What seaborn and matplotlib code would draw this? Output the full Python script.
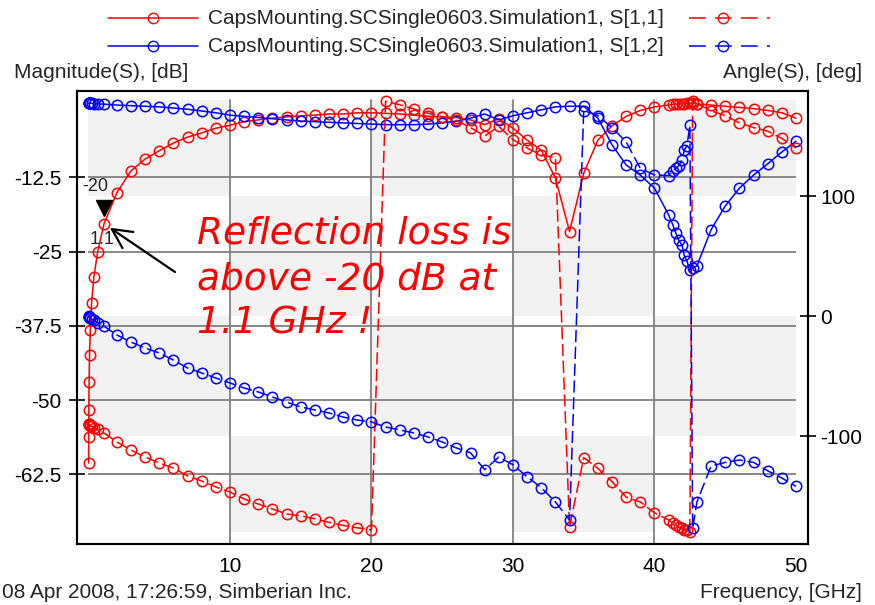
import matplotlib
matplotlib.use("Agg")
import pandas as pd
import seaborn as sns
import matplotlib.pyplot as plt
from matplotlib.lines import Line2D
from matplotlib.patches import Rectangle
from matplotlib.transforms import offset_copy

# values (GHz, dB, deg)
freq = [0.01, 0.016, 0.027, 0.045, 0.075, 0.13, 0.22, 0.38, 0.65, 1.1,
        2, 3, 4, 5, 6, 7, 8, 9, 10,
        11, 12, 13, 14, 15, 16, 17, 18, 19, 20,
        21, 22, 23, 24, 25, 26, 27, 28, 29, 30,
        31, 32, 33, 34, 35, 36, 37, 38, 39, 40,
        41, 41.3, 41.5, 41.7, 41.95, 42.1, 42.3, 42.5, 42.7,
        43, 44, 45, 46, 47, 48, 49, 50]

s11_db = [-60.6, -56.2, -51.7, -47.0, -42.4, -38.2, -33.6, -29.3, -25.0, -20.3,
          -15.1, -11.4, -9.4, -8.0, -6.7, -5.7, -5.0, -4.2, -3.7,
          -3.1, -2.8, -2.5, -2.3, -2.1, -2.0, -1.8, -1.8, -1.6, -1.6,
          -1.7, -1.8, -2.0, -2.2, -2.3, -2.4, -2.8, -3.6, -2.6, -4.2,
          -6.2, -7.9, -12.6, -21.6, -11.8, -6.2, -3.8, -2.2, -1.2, -0.6,
          -0.3, -0.2, -0.15, -0.1, -0.1, -0.05, 0.0, 0.0, 0.1,
          -0.1, -0.3, -0.5, -0.7, -0.9, -1.2, -1.6, -2.5]

s11_deg = [-90.0, -90.2, -90.4, -90.6, -91.0, -91.5, -92.0, -93.0, -94.5, -97.5,
           -105.0, -111.7, -117.5, -122.5, -126.7, -133.3, -137.5, -142.5, -146.7,
           -152.5, -156.7, -160.8, -165.0, -166.5, -169.0, -172.0, -174.5, -176.5, -178.3,
           179.0, 176.0, 172.5, 169.0, 166.0, 163.0, 157.0, 150.0, 158.0, 147.0,
           140.0, 134.0, 132.0, -176.0, -118.0, -127.0, -138.0, -151.0, -155.0, -164.0,
           -170.0, -172.5, -174.0, -176.0, -176.7, -178.0, -178.5, -179.8, 179.5,
           177.0, 171.0, 167.0, 161.0, 157.0, 154.0, 148.0, 140.0]

s12_db = [0.0, 0.0, 0.0, 0.0, 0.0, 0.0, 0.0, -0.05, -0.1, -0.15,
          -0.3, -0.4, -0.5, -0.6, -0.8, -1.0, -1.3, -1.6, -2.0,
          -2.2, -2.4, -2.6, -2.8, -3.0, -3.1, -3.2, -3.3, -3.4, -3.5,
          -3.6, -3.6, -3.6, -3.5, -3.3, -3.0, -2.5, -1.8, -2.8, -2.1,
          -1.6, -1.1, -0.6, -0.5, -0.5, -2.5, -7.0, -10.4, -12.1, -14.3,
          -18.8, -20.5, -21.8, -23.0, -23.9, -25.6, -26.6, -28.1, -27.7,
          -27.4, -21.3, -17.3, -14.3, -12.1, -10.2, -8.2, -6.4]

s12_deg = [-0.3, -0.5, -0.7, -1.0, -1.3, -1.7, -2.5, -3.5, -5.5, -8.5,
           -15.8, -21.7, -26.7, -30.8, -36.7, -43.3, -47.5, -51.7, -55.8,
           -60.0, -63.3, -67.5, -71.7, -75.8, -78.3, -80.8, -84.2, -86.7, -88.3,
           -92.5, -95.0, -97.5, -100.8, -105.0, -110.0, -114.0, -128.0, -117.5, -124.0,
           -134.0, -143.0, -155.0, -170.0, 171.0, 167.0, 157.0, 145.0, 123.0, 117.5,
           117.0, 121.0, 123.0, 125.0, 130.0, 138.0, 142.0, 159.0, -177.0,
           -155.0, -125.0, -122.0, -120.0, -122.0, -129.0, -135.0, -142.0]

mag_ticks = [-12.5, -25, -37.5, -50, -62.5]
ang_ticks = [100, 0, -100]
freq_ticks = [10, 20, 30, 40, 50]
band_freq = [0, 10, 20, 30, 40, 50]
band_ang = [180, 100, 0, -100, -180]

trace_name = 'CapsMounting.SCSingle0603.Simulation1'
params = ['S[1,1]', 'S[1,2]']
note_lines = ['Reflection loss is', 'above -20 dB at', '1.1 GHz !']
marker_f, marker_db = 1.1, -20.3

RED, BLUE = '#ff0000', '#0000ff'
GRID = '#808080'
BAND = '#f2f2f2'
W, H = 875, 605

sns.set_style('white')
plt.rcParams['font.family'] = ['Liberation Sans', 'DejaVu Sans']
plt.rcParams['axes.unicode_minus'] = False

df = pd.DataFrame({'freq': freq, 's11_db': s11_db, 's11_deg': s11_deg,
                   's12_db': s12_db, 's12_deg': s12_deg})

fig = plt.figure(figsize=(W / 100, H / 100), dpi=100)
ax = fig.add_axes([77 / W, 61 / H, 731 / W, 453 / H])
ax2 = ax.twinx()

# checkerboard background (angle bands x 10 GHz columns)
for i in range(len(band_ang) - 1):
    for j in range(len(band_freq) - 1):
        if (i + j) % 2 == 0:
            ax.add_patch(Rectangle((band_freq[j], band_ang[i + 1]),
                                   band_freq[j + 1] - band_freq[j],
                                   band_ang[i] - band_ang[i + 1],
                                   transform=ax2.transData, fc=BAND, ec='none', zorder=0))

# grid
ax.hlines(mag_ticks, band_freq[0], band_freq[-1], colors=GRID, lw=1.3, zorder=1)
for f in freq_ticks[:-1]:
    ax.add_line(Line2D([f, f], [-190, band_ang[0]], transform=ax2.transData,
                       color=GRID, lw=1.3, zorder=1))

common = dict(lw=1.1, marker='o', markersize=7.5, markerfacecolor='none',
              markeredgewidth=1.1, sort=False, estimator=None)
dashed = (0, (8, 3))

sns.lineplot(data=df, x='freq', y='s11_db', ax=ax, color=RED, markeredgecolor=RED, **common)
sns.lineplot(data=df, x='freq', y='s12_db', ax=ax, color=BLUE, markeredgecolor=BLUE, **common)
sns.lineplot(data=df, x='freq', y='s11_deg', ax=ax2, color=RED, markeredgecolor=RED,
             linestyle=dashed, **common)
sns.lineplot(data=df, x='freq', y='s12_deg', ax=ax2, color=BLUE, markeredgecolor=BLUE,
             linestyle=dashed, **common)

ax.set_xlabel('')
ax.set_ylabel('')
ax2.set_ylabel('')

ax.set_xlim(-0.81, 50.85)
ax.set_ylim(-74.24, 2.07)
ax2.set_ylim(-190, 187.5)

ax.set_xticks(freq_ticks)
ax.set_yticks(mag_ticks)
ax.set_yticklabels([f'{t:g}' for t in mag_ticks])
ax2.set_yticks(ang_ticks)
ax.tick_params(axis='x', direction='inout', length=12, width=1.2, labelsize=15, pad=3, colors='black')
ax.tick_params(axis='y', direction='inout', length=12, width=1.2, labelsize=15, pad=5, colors='black')
ax2.tick_params(axis='y', direction='inout', length=12, width=1.2, labelsize=15, pad=3, colors='black')
for a in (ax, ax2):
    for s in a.spines.values():
        s.set_color('black')
        s.set_linewidth(1.5)


def fxy(x, y):
    return x / W, 1 - y / H


# legend drawn by hand: solid sample, name, dashed sample
for k, (col, p) in enumerate(zip([RED, BLUE], params)):
    y = 18 + 28 * k
    xs, ys = zip(fxy(108, y), fxy(153, y), fxy(198, y))
    fig.add_artist(Line2D(xs, ys, transform=fig.transFigure, color=col, lw=1.1, marker='o',
                          markersize=7.5, markerfacecolor='none', markeredgecolor=col,
                          markevery=[1]))
    xs, ys = zip(fxy(689, y), fxy(723, y), fxy(770, y))
    fig.add_artist(Line2D(xs, ys, transform=fig.transFigure, color=col, lw=1.1,
                          ls=(0, (11, 6)), marker='o', markersize=7.5, markerfacecolor='none',
                          markeredgecolor=col, markevery=[1]))
    fig.text(*fxy(208, y), f'{trace_name}, {p}', ha='left', va='center', fontsize=15)

fig.text(*fxy(14, 73), 'Magnitude(S), [dB]', ha='left', va='center', fontsize=15)
fig.text(*fxy(862, 73), 'Angle(S), [deg]', ha='right', va='center', fontsize=15)
fig.text(*fxy(2, 593), '08 Apr 2008, 17:26:59, Simberian Inc.', ha='left', va='center', fontsize=15)
fig.text(*fxy(862, 593), 'Frequency, [GHz]', ha='right', va='center', fontsize=15)

# annotation
for k, line in enumerate(note_lines):
    fig.text(*fxy(197, 244 + 45 * k), line, color=RED, fontsize=27, family='DejaVu Sans',
             style='italic', ha='left', va='baseline')

ax.annotate('', xy=(marker_f, marker_db), xycoords='data',
            xytext=(175, H - 272), textcoords='figure pixels',
            arrowprops=dict(arrowstyle='->,head_length=0.7,head_width=0.35', color='black',
                            lw=1.6, shrinkA=0, shrinkB=5, mutation_scale=20))

ax.plot([marker_f], [marker_db], marker='v', color='black', markersize=11, ls='none',
        transform=offset_copy(ax.transData, fig=fig, x=0, y=16, units='dots'), zorder=5)
ax.annotate(f'{round(marker_db):d}', xy=(marker_f, marker_db), xytext=(-9, 37),
            textcoords='offset pixels', ha='center', va='center', fontsize=13)
ax.annotate(f'{marker_f:g}', xy=(marker_f, marker_db), xytext=(-2, -16),
            textcoords='offset pixels', ha='center', va='center', fontsize=13)

fig.savefig('out.png', dpi=100)
